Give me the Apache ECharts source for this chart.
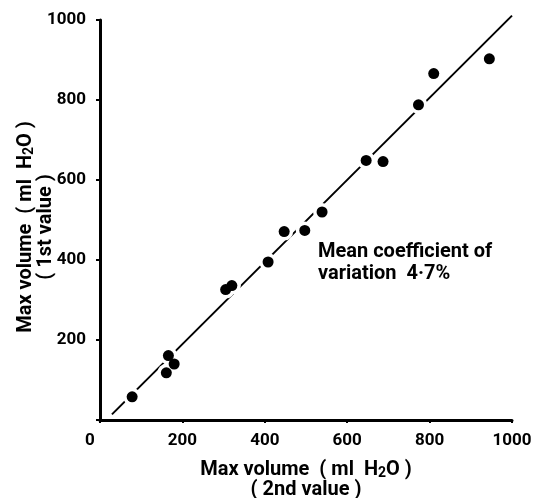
<!DOCTYPE html>
<html>
<head>
<meta charset="utf-8">
<script src="https://cdn.jsdelivr.net/npm/echarts@6/dist/echarts.min.js"></script>
<style>
  html, body { margin: 0; padding: 0; background: #fff; }
  #chart { width: 538px; height: 498px; }
</style>
</head>
<body>
<div id="chart"></div>
<script>
// max volume, 2nd value (x) vs 1st value (y), ml H2O
const secondValue = [78, 161, 166, 180, 305, 320, 408, 447, 497, 539, 646, 687, 773, 810, 945];
const firstValue  = [58, 118, 161, 140, 326, 336, 395, 471, 474, 520, 649, 646, 788, 866, 903];

// drawn regression line end points
const fitX = [29, 1000];
const fitY = [14, 1011];

const axisTicks = [0, 200, 400, 600, 800, 1000];

const points = secondValue.map((v, i) => [v, firstValue[i]]);
const fitLine = fitX.map((v, i) => [v, fitY[i]]);

const font = 'Roboto, "Liberation Sans", sans-serif';

const nameRich = {
    a: {fontFamily: font, fontWeight: 'bold', fontSize: 20, color: '#000', lineHeight: 20},
    s: {fontFamily: font, fontWeight: 'bold', fontSize: 14, color: '#000', verticalAlign: 'bottom', padding: [7, 0, 0, 0], lineHeight: 20}
};

let myChart = echarts.init(document.getElementById('chart'));
myChart.setOption({
    animation: false,
    backgroundColor: '#fff',
    grid: {left: 100, right: 26, top: 20, bottom: 78, containLabel: false, outerBoundsMode: 'none'},
    xAxis: {
        type: 'value',
        min: axisTicks[0],
        max: axisTicks[axisTicks.length - 1],
        interval: 200,
        splitLine: {show: false},
        axisLine: {lineStyle: {color: '#000', width: 3}},
        axisTick: {length: 3, lineStyle: {color: '#000', width: 2}},
        axisLabel: {
            color: '#000', fontFamily: font, fontWeight: 'bold', fontSize: 17, margin: 12,
            formatter: v => v === 0 ? '{zero|0}' : String(v),
            rich: {zero: {padding: [0, 20, 0, 0], color: '#000', fontFamily: font, fontWeight: 'bold', fontSize: 17}}
        },
        name: '{a|Max volume  ( ml  H}{s|2}{a|O )}\n{a|( 2nd value )}',
        nameLocation: 'middle',
        nameGap: 40,
        nameMoveOverlap: false,
        nameTextStyle: {color: '#000', rich: nameRich}
    },
    yAxis: {
        type: 'value',
        min: axisTicks[0],
        max: axisTicks[axisTicks.length - 1],
        interval: 200,
        splitLine: {show: false},
        axisLine: {lineStyle: {color: '#000', width: 3}},
        axisTick: {length: 4, lineStyle: {color: '#000', width: 2}},
        axisLabel: {
            color: '#000', fontFamily: font, fontWeight: 'bold', fontSize: 17, margin: 14,
            formatter: v => v === 0 ? '' : String(v)
        },
        name: '{a|Max volume  ( ml  H}{s|2}{a|O )}\n{a|( 1st value )}',
        nameLocation: 'middle',
        nameRotate: 90,
        nameGap: 44,
        nameMoveOverlap: false,
        nameTextStyle: {color: '#000', rich: nameRich, padding: [0, 14, 0, 0]}
    },
    graphic: [{
        type: 'text',
        left: 318,
        top: 241,
        style: {
            text: 'Mean coefficient of\nvariation  4·7%',
            fill: '#000',
            font: 'bold 20px ' + font,
            lineHeight: 22
        }
    }],
    series: [
        {
            type: 'line',
            data: fitLine,
            symbol: 'none',
            clip: false,
            lineStyle: {color: '#000', width: 2},
            z: 1
        },
        {
            // white halo breaks the line around each dot
            type: 'scatter',
            data: points,
            symbolSize: 18,
            itemStyle: {color: '#fff', opacity: 1},
            z: 2
        },
        {
            type: 'scatter',
            data: points,
            symbolSize: 11,
            itemStyle: {color: '#000', opacity: 1},
            z: 3
        }
    ]
});
</script>
</body>
</html>
